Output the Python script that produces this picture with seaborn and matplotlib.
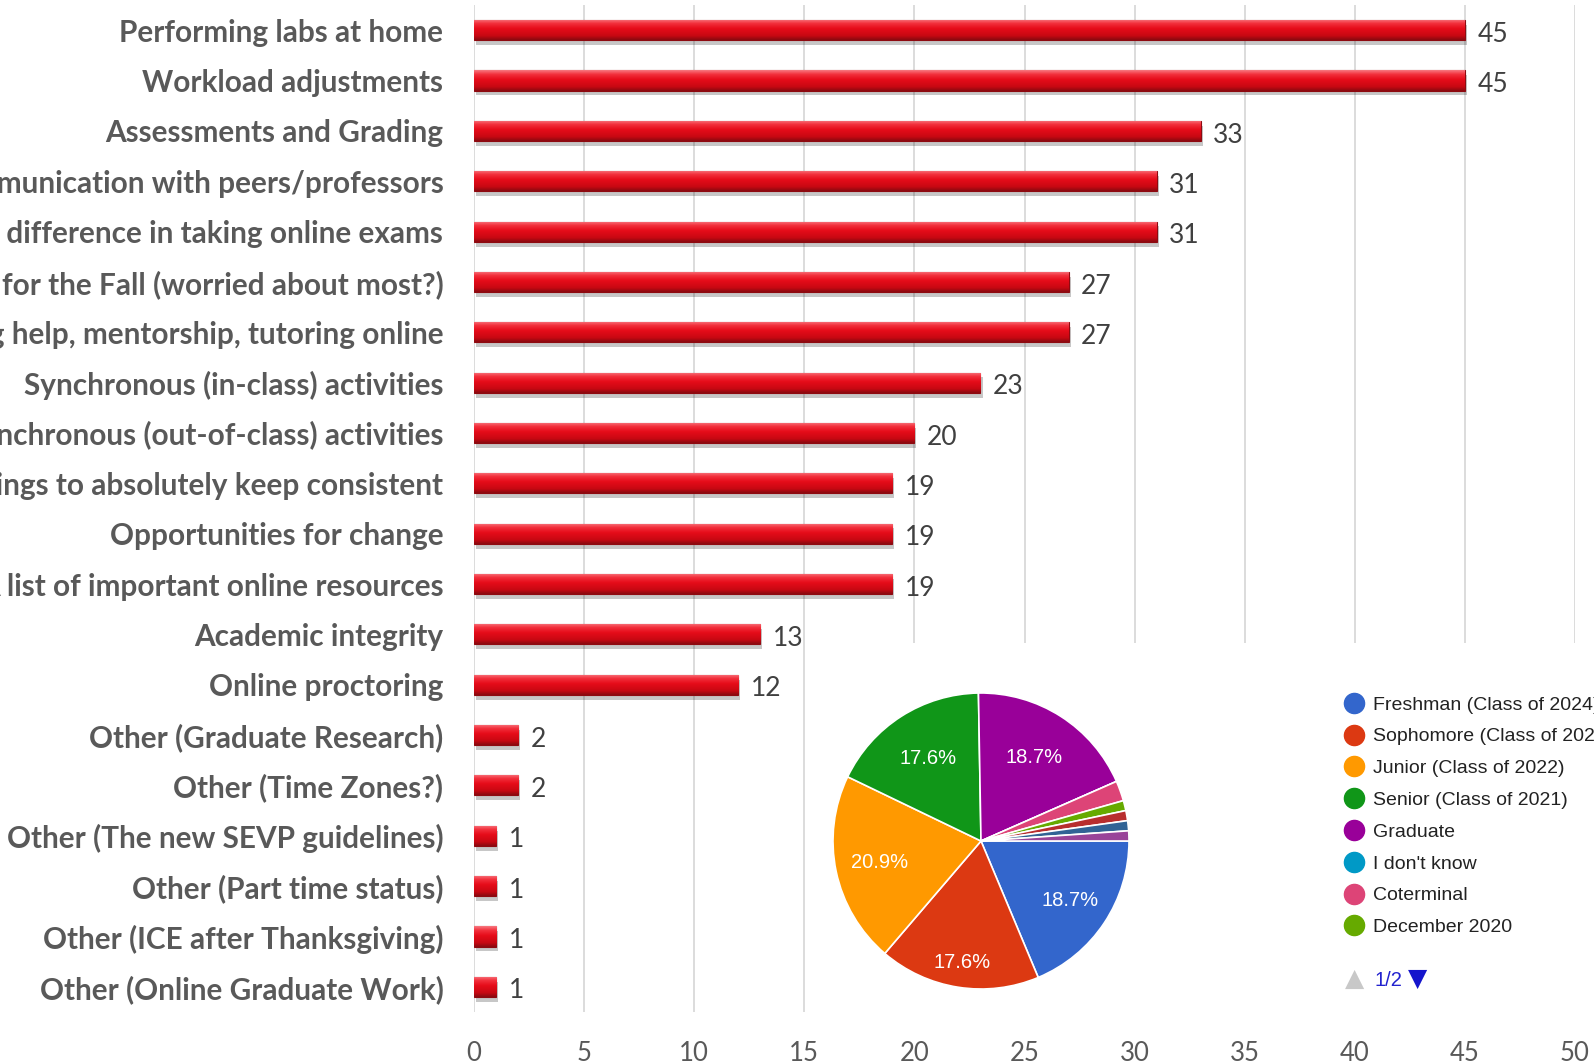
import numpy as np
import pandas as pd
import matplotlib
matplotlib.use("Agg")
import matplotlib.pyplot as plt
import matplotlib.patheffects as pe
from matplotlib.colors import LinearSegmentedColormap
from matplotlib.lines import Line2D
import seaborn as sns

# ---------------- data ----------------
categories = [
    "Performing labs at home",
    "Workload adjustments",
    "Assessments and Grading",
    "Communication with peers/professors",
    "Any difference in taking online exams",
    "Concerns for the Fall (worried about most?)",
    "Getting help, mentorship, tutoring online",
    "Synchronous (in-class) activities",
    "Asynchronous (out-of-class) activities",
    "Things to absolutely keep consistent",
    "Opportunities for change",
    "A list of important online resources",
    "Academic integrity",
    "Online proctoring",
    "Other (Graduate Research)",
    "Other (Time Zones?)",
    "Other (The new SEVP guidelines)",
    "Other (Part time status)",
    "Other (ICE after Thanksgiving)",
    "Other (Online Graduate Work)",
]
counts = [45, 45, 33, 31, 31, 27, 27, 23, 20, 19, 19, 19, 13, 12, 2, 2, 1, 1, 1, 1]
x_ticks = [0, 5, 10, 15, 20, 25, 30, 35, 40, 45, 50]

pie_labels = ["Freshman (Class of 2024)", "Sophomore (Class of 2023)",
              "Junior (Class of 2022)", "Senior (Class of 2021)", "Graduate",
              "I don't know", "Coterminal", "December 2020",
              "Other A", "Other B", "Other C"]
pie_values = [17, 16, 19, 16, 17, 0, 2, 1, 1, 1, 1]
pie_colors = ["#3366cc", "#dc3912", "#ff9900", "#109618", "#990099",
              "#0099c6", "#dd4477", "#66aa00", "#b82e2e", "#316395", "#994499"]
legend_count = 8  # page 1 of the legend

# ---------------- figure ----------------
W, H = 1594, 1064
sns.set_theme(style="white")
plt.rcParams["font.family"] = ["Lato", "DejaVu Sans"]
fig = plt.figure(figsize=(W / 100, H / 100), dpi=100)
fig.patch.set_facecolor("white")

ax = fig.add_axes([474 / W, 1 - 1012 / H, (1575 - 474) / W, (1012 - 5) / H])
df = pd.DataFrame({"category": categories, "count": counts})
sns.barplot(data=df, x="count", y="category", orient="h", color="#e0101c",
            width=0.4, edgecolor="#8e0a10", linewidth=0.8, ax=ax, zorder=3)

xlim = (0, 50)
ylim = ax.get_ylim()

# glossy gradient + soft shadow on every bar
grad_cmap = LinearSegmentedColormap.from_list(
    "gloss", [(0.0, "#f77880"), (0.2, "#f2303c"), (0.45, "#e60c1a"),
              (0.8, "#c80812"), (1.0, "#8a0a10")])
grad = np.linspace(0, 1, 64).reshape(-1, 1)
for p in ax.patches:
    p.set_path_effects([pe.SimplePatchShadow(offset=(1.5, -3.5), shadow_rgbFace="#000000", alpha=0.22),
                        pe.Normal()])
    x0, y0 = p.get_x(), p.get_y()
    w, h = p.get_width(), p.get_height()
    im = ax.imshow(grad, extent=(x0, x0 + w, y0 + h, y0), origin="upper",
                   cmap=grad_cmap, aspect="auto", zorder=4, interpolation="bilinear")
    im.set_clip_path(p)

ax.set_xlim(*xlim)
ax.set_ylim(*ylim)
ax.set_xticks(x_ticks)
ax.set_xlabel("")
ax.set_ylabel("")
for s in ax.spines.values():
    s.set_visible(False)
ax.grid(axis="x", color="#d9d9d9", linewidth=1.3, zorder=0)
ax.grid(axis="y", visible=False)
ax.set_axisbelow(True)
ax.tick_params(axis="x", length=0, pad=21, labelsize=18.5, labelcolor="#595959")
ax.tick_params(axis="y", length=0, pad=22, labelsize=21.4, labelcolor="#595959")
for t in ax.get_yticklabels():
    t.set_fontweight("bold")

# value labels
for p, v in zip(ax.patches, counts):
    ax.annotate(str(v), (p.get_x() + p.get_width(), p.get_y() + p.get_height() / 2),
                xytext=(9, -3), textcoords="offset points", ha="left", va="center",
                fontsize=19, color="#404040", zorder=6)

# ---------------- inset panel (pie) ----------------
box = fig.add_axes([815 / W, 1 - 1020 / H, (W - 815) / W, (1020 - 643) / H])
box.set_facecolor("white")
box.set_xticks([]); box.set_yticks([])
for s in box.spines.values():
    s.set_visible(False)
box.set_zorder(5)

R = 148
cx, cy = 981, 841
pax = fig.add_axes([(cx - R) / W, 1 - (cy + R) / H, 2 * R / W, 2 * R / H])
pax.set_zorder(6)
pax.patch.set_alpha(0)

wedges, texts, autotexts = pax.pie(
    pie_values, colors=pie_colors, startangle=0, counterclock=False,
    autopct=lambda pct: f"{pct:.1f}%" if pct > 5 else "",
    pctdistance=0.7, radius=1.0,
    wedgeprops=dict(edgecolor="white", linewidth=1.2),
    textprops=dict(color="white", fontsize=14.5, family=["Liberation Sans", "DejaVu Sans"]))
label_dist = [0.72, 0.83, 0.70, 0.66, 0.67]
for w_, t, d in zip(wedges, autotexts, label_dist + [0.7] * 10):
    ang = np.deg2rad((w_.theta1 + w_.theta2) / 2)
    t.set_position((d * np.cos(ang), d * np.sin(ang)))
pax.set_xlim(-1.0, 1.0)
pax.set_ylim(-1.0, 1.0)
pax.set_aspect("auto")
pax.axis("off")

handles = [Line2D([0], [0], marker="o", linestyle="", markersize=14.5,
                  markerfacecolor=c, markeredgecolor=c) for c in pie_colors[:legend_count]]
leg = fig.legend(handles, pie_labels[:legend_count], loc="upper left",
                 bbox_to_anchor=(1344 / W, 1 - 696 / H), bbox_transform=fig.transFigure,
                 frameon=False, labelspacing=0.73, handlelength=1.0,
                 handletextpad=0.5, borderpad=0, borderaxespad=0,
                 prop=dict(family=["Liberation Sans", "DejaVu Sans"], size=14))
for t in leg.get_texts():
    t.set_color("#222222")
leg.set_zorder(7)

fig.text(1355 / W, 1 - 979 / H, "▲", ha="center", va="center", fontsize=18,
         color="#c8c8c8", family=["DejaVu Sans"], zorder=8)
fig.text(1374 / W, 1 - 981 / H, "1/2", ha="left", va="center", fontsize=14.5,
         color="#2323cf", family=["Liberation Sans", "DejaVu Sans"], zorder=8)
fig.text(1418 / W, 1 - 979 / H, "▼", ha="center", va="center", fontsize=18,
         color="#1515cc", family=["DejaVu Sans"], zorder=8)

fig.savefig("out.png", dpi=100)
